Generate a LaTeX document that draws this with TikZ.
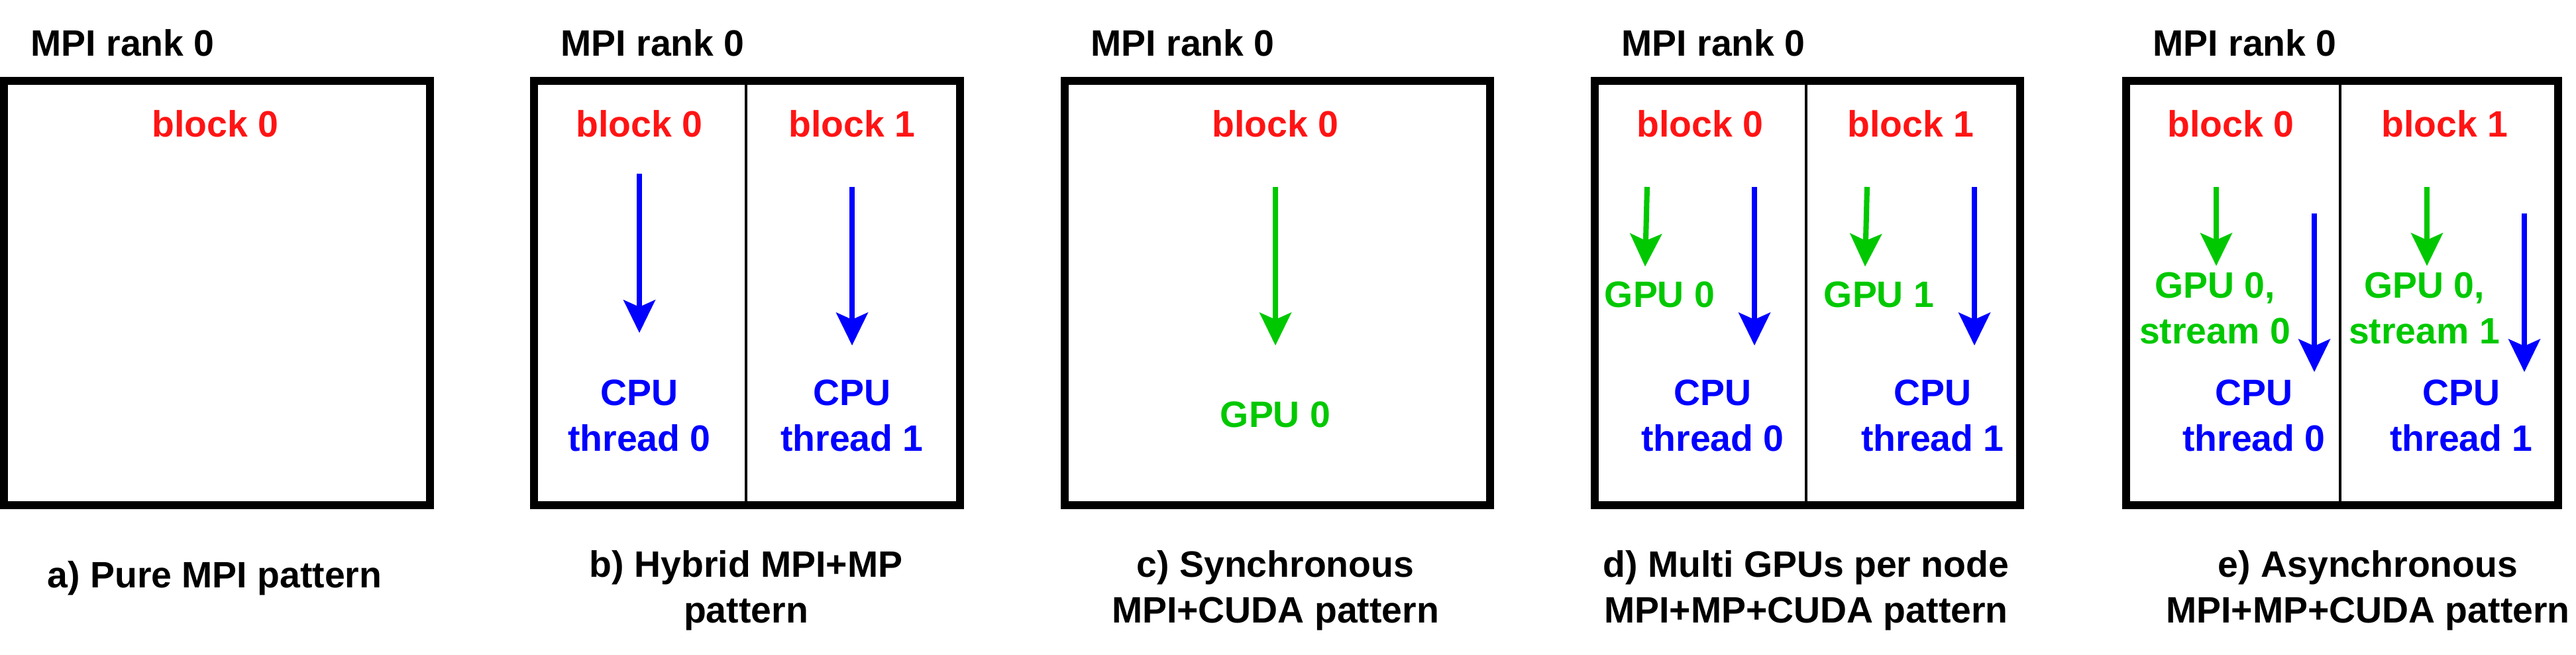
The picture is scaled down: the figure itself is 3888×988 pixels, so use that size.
\documentclass[tikz,border=0pt]{standalone}
\usepackage{fontspec}
\setmainfont{Liberation Sans}
\usetikzlibrary{arrows.meta}
\definecolor{blockred}{RGB}{255,20,20}
\definecolor{gpugreen}{RGB}{0,200,0}
\definecolor{cpublue}{RGB}{0,0,255}
\tikzset{
  lbl/.style={font=\fontsize{15.75}{19.5}\selectfont\bfseries,inner sep=0pt,align=center,anchor=base},
  rankbox/.style={draw,line width=3.4pt},
  divider/.style={draw,line width=1.1pt},
  flow/.style={line width=2.3pt,-{Stealth[length=0.5cm,width=0.49cm,inset=0.11cm,line width=0pt]}},
}
\begin{document}
\begin{tikzpicture}[x=0.01cm,y=-0.01cm]
\useasboundingbox (0,0) rectangle (3888,988);
\draw[rankbox] (6,122) rectangle (649,762);
\draw[rankbox] (806,122) rectangle (1449,762);
\draw[divider] (1126,122) -- (1126,762);
\draw[rankbox] (1607,122) rectangle (2249,762);
\draw[rankbox] (2407,122) rectangle (3049,762);
\draw[divider] (2726,122) -- (2726,762);
\draw[rankbox] (3209,122) rectangle (3861,762);
\draw[divider] (3532,122) -- (3532,762);

\node[lbl,anchor=base west] (rankA) at (46,85) {MPI rank 0};
\node[lbl,anchor=base west] (rankB) at (846,85) {MPI rank 0};
\node[lbl,anchor=base west] (rankC) at (1646,85) {MPI rank 0};
\node[lbl,anchor=base west] (rankD) at (2447,85) {MPI rank 0};
\node[lbl,anchor=base west] (rankE) at (3249,85) {MPI rank 0};

\node[lbl,blockred] (blkA) at (325,207) {block 0};
\node[lbl,blockred] (blkB0) at (965,207) {block 0};
\node[lbl,blockred] (blkB1) at (1286,207) {block 1};
\node[lbl,blockred] (blkC) at (1925,207) {block 0};
\node[lbl,blockred] (blkD0) at (2566,207) {block 0};
\node[lbl,blockred] (blkD1) at (2884,207) {block 1};
\node[lbl,blockred] (blkE0) at (3367,207) {block 0};
\node[lbl,blockred] (blkE1) at (3690,207) {block 1};

\node[lbl,cpublue] (cpuB0) at (965,680) {CPU\\thread 0};
\node[lbl,cpublue] (cpuB1) at (1286,680) {CPU\\thread 1};
\node[lbl,gpugreen] (gpuC) at (1925,644) {GPU 0};
\node[lbl,gpugreen] (gpuD0) at (2505,463) {GPU 0};
\node[lbl,gpugreen] (gpuD1) at (2836,463) {GPU 1};
\node[lbl,cpublue] (cpuD0) at (2585,680) {CPU\\thread 0};
\node[lbl,cpublue] (cpuD1) at (2917,680) {CPU\\thread 1};
\node[lbl,gpugreen] (gpuE0) at (3343,518) {GPU 0,\\stream 0};
\node[lbl,gpugreen] (gpuE1) at (3659,518) {GPU 0,\\stream 1};
\node[lbl,cpublue] (cpuE0) at (3402,680) {CPU\\thread 0};
\node[lbl,cpublue] (cpuE1) at (3715,680) {CPU\\thread 1};

\coordinate (fB0) at (965,262);  \coordinate (tB0) at (965,502);
\coordinate (fB1) at (1286,282); \coordinate (tB1) at (1286,521);
\coordinate (fC) at (1925,282);  \coordinate (tC) at (1925,521);
\coordinate (gD0) at (2486,282); \coordinate (hD0) at (2483,402);
\coordinate (fD0) at (2648,282); \coordinate (tD0) at (2648,521);
\coordinate (gD1) at (2818,282); \coordinate (hD1) at (2815,402);
\coordinate (fD1) at (2980,282); \coordinate (tD1) at (2980,521);
\coordinate (gE0) at (3345,282); \coordinate (hE0) at (3345,401);
\coordinate (fE0) at (3493,322); \coordinate (tE0) at (3493,561);
\coordinate (gE1) at (3663,282); \coordinate (hE1) at (3663,401);
\coordinate (fE1) at (3810,322); \coordinate (tE1) at (3810,561);
\draw[flow,cpublue] (fB0) -- (tB0);
\draw[flow,cpublue] (fB1) -- (tB1);
\draw[flow,gpugreen] (fC) -- (tC);
\draw[flow,gpugreen] (gD0) -- (hD0);
\draw[flow,cpublue] (fD0) -- (tD0);
\draw[flow,gpugreen] (gD1) -- (hD1);
\draw[flow,cpublue] (fD1) -- (tD1);
\draw[flow,gpugreen] (gE0) -- (hE0);
\draw[flow,cpublue] (fE0) -- (tE0);
\draw[flow,gpugreen] (gE1) -- (hE1);
\draw[flow,cpublue] (fE1) -- (tE1);

\node[lbl] (capA) at (324,886) {a) Pure MPI pattern};
\node[lbl] (capB) at (1126,939) {b) Hybrid MPI+MP\\pattern};
\node[lbl] (capC) at (1925,939) {c) Synchronous\\MPI+CUDA pattern};
\node[lbl] (capD) at (2726,939) {d) Multi GPUs per node\\MPI+MP+CUDA pattern};
\node[lbl] (capE) at (3574,939) {e) Asynchronous\\MPI+MP+CUDA pattern};
\end{tikzpicture}
\end{document}
